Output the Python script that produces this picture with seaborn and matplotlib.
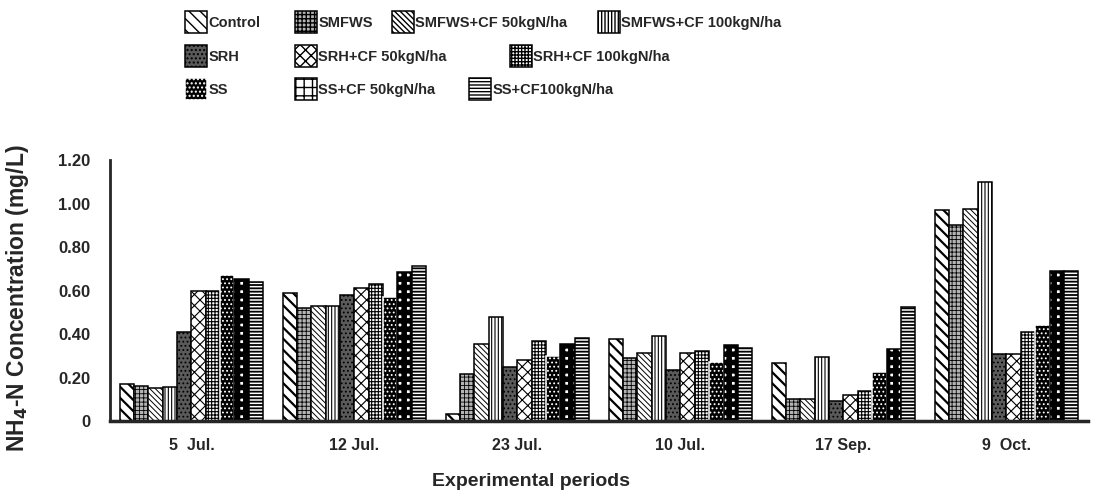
import matplotlib
matplotlib.use("Agg")
import matplotlib.pyplot as plt
from matplotlib.patches import Patch
import numpy as np
import pandas as pd
import seaborn as sns

periods = ["5  Jul.", "12 Jul.", "23 Jul.", "10 Jul.", "17 Sep.", "9  Oct."]
treatments = ["Control", "SMFWS", "SMFWS+CF 50kgN/ha", "SMFWS+CF 100kgN/ha",
              "SRH", "SRH+CF 50kgN/ha", "SRH+CF 100kgN/ha",
              "SS", "SS+CF 50kgN/ha", "SS+CF100kgN/ha"]

# NH4-N concentration (mg/L), one list per period, in treatment order
jul05 = [0.17, 0.16, 0.15, 0.155, 0.41, 0.60, 0.60, 0.67, 0.655, 0.64]
jul12 = [0.59, 0.52, 0.53, 0.53, 0.58, 0.61, 0.63, 0.57, 0.685, 0.715]
jul23 = [0.03, 0.215, 0.355, 0.48, 0.25, 0.28, 0.37, 0.30, 0.355, 0.38]
jul10 = [0.375, 0.29, 0.315, 0.39, 0.235, 0.315, 0.32, 0.27, 0.35, 0.335]
sep17 = [0.265, 0.10, 0.10, 0.295, 0.09, 0.12, 0.14, 0.225, 0.33, 0.525]
oct09 = [0.97, 0.90, 0.975, 1.10, 0.31, 0.31, 0.41, 0.44, 0.69, 0.69]

values = [jul05, jul12, jul23, jul10, sep17, oct09]

rows = []
for p, vals in zip(periods, values):
    for t, v in zip(treatments, vals):
        rows.append({"period": p, "treatment": t, "conc": v})
df = pd.DataFrame(rows)

# fill style per treatment: (face, edge, hatch, hatch linewidth)
styles = [
    ("white", "black", "\\\\\\", 1.6),
    ("#b4b4b4", "black", "++++", 0.6),
    ("white", "black", "\\\\\\\\\\\\", 0.7),
    ("white", "black", "|||||", 0.8),
    ("#5a5a5a", "black", "....", 0.8),
    ("white", "black", "xxx", 0.8),
    ("white", "black", "+++++", 0.8),
    ("black", "white", "....", 0.8),
    ("white", "black", "++", 4.0),
    ("white", "black", "-----", 1.3),
]


def set_hatch_lw(p, lw):
    if hasattr(p, "set_hatch_linewidth"):
        p.set_hatch_linewidth(lw)
    p._hatch_linewidth = lw


sns.set_style("white")
plt.rcParams["font.family"] = ["Liberation Sans", "DejaVu Sans"]
plt.rcParams["font.weight"] = "bold"

fig = plt.figure(figsize=(10.94, 4.98), dpi=100)
ax = fig.add_axes([0.1005, 0.1546, 0.894, 0.524])

sns.barplot(data=df, x="period", y="conc", hue="treatment", hue_order=treatments,
            order=periods, width=0.88, gap=0, dodge=True, legend=False, ax=ax,
            errorbar=None, saturation=1)

for cont, (fc, ec, h, hlw) in zip(ax.containers, styles):
    for bar in cont:
        bar.set_facecolor(fc)
        bar.set_edgecolor(ec)
        bar.set_hatch(h)
        bar.set_linewidth(1.1)
        set_hatch_lw(bar, hlw)

ax.set_xlim(-0.5, 5.5)
ax.set_ylim(0, 1.2)
yt = [0, 0.2, 0.4, 0.6, 0.8, 1.0, 1.2]
ax.set_yticks(yt)
ax.set_yticklabels(["0"] + ["%.2f" % v for v in yt[1:]], fontsize=12, fontweight="bold")
ax.tick_params(axis="y", direction="in", length=4, width=1.5, pad=14)
ax.tick_params(axis="x", length=0, pad=12, labelsize=11.5)
for lab in ax.get_xticklabels():
    lab.set_fontweight("bold")
sns.despine(ax=ax)
ax.spines["left"].set_linewidth(2)
ax.spines["bottom"].set_linewidth(2.5)

ax.set_xlabel("Experimental periods", fontsize=14, fontweight="bold", labelpad=14)
ax.xaxis.set_label_coords(0.43, -0.2)
ax.set_ylabel(r"NH$_\mathbf{4}$-N Concentration (mg/L)", fontsize=16.5, fontweight="bold")
ax.yaxis.set_label_coords(-0.081, 0.47)

# legend entries placed one by one: (treatment index, box left x px, row centre y px)
legend_pos = [(0, 185, 22), (1, 295, 22), (2, 392, 22), (3, 598, 22),
              (4, 185, 56), (5, 295, 56), (6, 510, 56),
              (7, 185, 89), (8, 295, 89), (9, 469, 89)]
W, H = 1094, 498
for i, x, y in legend_pos:
    fc, ec, h, hlw = styles[i]
    p = Patch(facecolor=fc, edgecolor=ec, hatch=h, linewidth=1.1)
    set_hatch_lw(p, hlw)
    fig.legend([p], [treatments[i]], loc="center left",
               bbox_to_anchor=(x / W, 1 - y / H), frameon=False, borderpad=0,
               borderaxespad=0, handlelength=1.5, handleheight=2.0,
               handletextpad=0.1, prop={"size": 10.5, "weight": "bold"})

fig.savefig("out.png", dpi=100)
